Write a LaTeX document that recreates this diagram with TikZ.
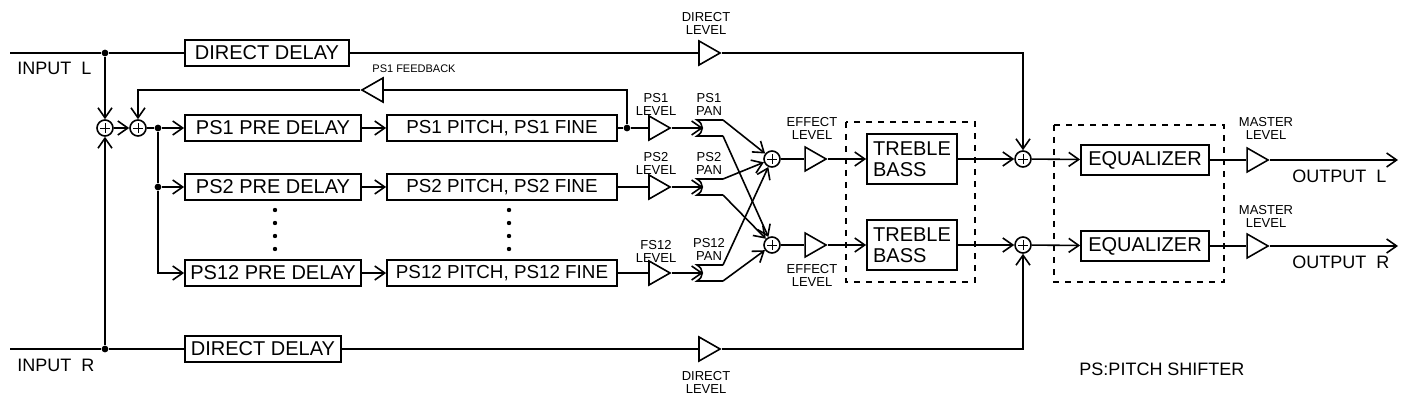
\documentclass[tikz,border=0pt]{standalone}
\usepackage{fontspec}
\setmainfont{Liberation Sans}
\usetikzlibrary{arrows.meta,shapes.geometric}

\tikzset{
  box/.style={draw, line width=0.9pt, inner sep=1.5pt, minimum height=13pt, font=\fontsize{10}{10}\selectfont},
  pbox/.style={box, minimum width=115pt, font=\fontsize{9.4}{10}\selectfont},
  amp/.style={draw, isosceles triangle, isosceles triangle stretches, inner sep=0pt, minimum height=10.5pt, minimum width=12pt},
  sum/.style={circle, draw, minimum size=8pt, inner sep=0pt,
    path picture={\draw[line width=0.4pt]
      ([xshift=-2.3pt]path picture bounding box.center) -- ([xshift=2.3pt]path picture bounding box.center)
      ([yshift=-2.3pt]path picture bounding box.center) -- ([yshift=2.3pt]path picture bounding box.center);}},
  dot/.style={circle, fill, inner sep=1.2pt},
  lbl/.style={align=center, font=\fontsize{6.5}{6.5}\selectfont},
  io/.style={anchor=west, font=\fontsize{9}{9}\selectfont},
}

% pan splitter: name, y
\newcommand{\pan}[2]{%
  \coordinate (#1) at (703,#2);
  \coordinate (#1t) at (723,{#2-8});
  \coordinate (#1b) at (723,{#2+8});
  \draw (#1t) -- (697,{#2-8}) .. controls (704,{#2-4}) and (704,{#2+4}) .. (697,{#2+8}) -- (#1b);
}

\begin{document}
\begin{tikzpicture}[x=0.5pt, y=-0.5pt, line width=0.8pt, >={Straight Barb[length=5pt,width=7pt]}]
    \useasboundingbox (0,0) rectangle (1401,406);

    % inputs and direct paths
    \coordinate (inL) at (10,53);
    \coordinate (inR) at (10,349);
    \node[dot] (jL) at (105,53) {};
    \node[dot] (jR) at (105,349) {};
    \node[box, minimum width=82pt] (ddL) at (267,53) {DIRECT DELAY};
    \node[box, minimum width=78pt] (ddR) at (263,349) {DIRECT DELAY};
    \node[amp] (dlL) at (706,53) {};
    \node[amp] (dlR) at (706,349) {};

    % mixers at the input
    \node[sum] (sA) at (105,128) {};
    \node[sum] (sB) at (138,128) {};
    \node[dot] (j1) at (158,128) {};
    \node[dot] (j2) at (158,187) {};

    % pitch shifter rows
    \node[box, minimum width=88pt] (pd1) at (273,128) {PS1 PRE DELAY};
    \node[box, minimum width=88pt] (pd2) at (273,187) {PS2 PRE DELAY};
    \node[box, minimum width=88pt] (pd12) at (273,273) {PS12 PRE DELAY};
    \node[pbox] (pp1) at (502,128) {PS1 PITCH, PS1 FINE};
    \node[pbox] (pp2) at (502,187) {PS2 PITCH, PS2 FINE};
    \node[pbox] (pp12) at (502,273) {PS12 PITCH, PS12 FINE};
    \node[dot] (jf) at (627,128) {};
    \node[amp, shape border rotate=180] (fb) at (376,90) {};
    \node[amp] (lv1) at (656,128) {};
    \node[amp] (lv2) at (656,187) {};
    \node[amp] (lv12) at (656,273) {};
    \pan{pn1}{128}
    \pan{pn2}{187}
    \pan{pn12}{273}

    % effect mixers, tone, output
    \node[sum] (sL) at (772,159) {};
    \node[sum] (sR) at (772,245) {};
    \node[amp] (el1) at (812,159) {};
    \node[amp] (el2) at (812,245) {};
    \node[box, align=left, minimum width=45pt, minimum height=25pt, inner sep=1pt,
      font=\fontsize{10}{10.5}\selectfont] (tb1) at (912,159) {TREBLE\\BASS};
    \node[box, align=left, minimum width=45pt, minimum height=25pt, inner sep=1pt,
      font=\fontsize{10}{10.5}\selectfont] (tb2) at (912,245) {TREBLE\\BASS};
    \node[sum] (oL) at (1023,159) {};
    \node[sum] (oR) at (1023,245) {};
    \node[box, minimum width=64pt, minimum height=15pt] (eq1) at (1145,160) {EQUALIZER};
    \node[box, minimum width=64pt, minimum height=15pt] (eq2) at (1145,246) {EQUALIZER};
    \node[amp] (ml1) at (1254,160) {};
    \node[amp] (ml2) at (1254,246) {};
    \coordinate (outL) at (1398,160);
    \coordinate (outR) at (1398,246);

    % connections
    \draw (inL) -- (jL) -- (ddL) -- (dlL);
    \draw[->] (dlL) -| (oL);
    \draw (inR) -- (jR) -- (ddR) -- (dlR);
    \draw[->] (dlR) -| (oR);
    \draw[->] (jL) -- (sA);
    \draw[->] (jR) -- (sA);
    \draw[->] (sA) -- (sB);
    \draw (sB) -- (j1);
    \draw (j1) -- (j2);
    \draw[->] (j1) -- (pd1);
    \draw[->] (j2) -- (pd2);
    \draw[->] (j2) |- (pd12);
    \draw[->] (pd1) -- (pp1);
    \draw[->] (pd2) -- (pp2);
    \draw[->] (pd12) -- (pp12);
    \draw (pp1) -- (jf) -- (lv1);
    \draw (pp2) -- (lv2);
    \draw (pp12) -- (lv12);
    \draw (jf) |- (fb);
    \draw[->] (fb) -| (sB);
    \draw[->] (lv1) -- (pn1);
    \draw[->] (lv2) -- (pn2);
    \draw[->] (lv12) -- (pn12);
    \draw[->] (pn1t) -- (sL);
    \draw[->] (pn2t) -- (sL);
    \draw[->] (pn12t) -- (sL);
    \draw[->] (pn1b) -- (sR);
    \draw[->] (pn2b) -- (sR);
    \draw[->] (pn12b) -- (sR);
    \draw (sL) -- (el1);
    \draw (sR) -- (el2);
    \draw[->] (el1) -- (tb1);
    \draw[->] (el2) -- (tb2);
    \draw[->] (tb1) -- (oL);
    \draw[->] (tb2) -- (oR);
    \draw[->] (oL) -- (eq1);
    \draw[->] (oR) -- (eq2);
    \draw (eq1) -- (ml1);
    \draw (eq2) -- (ml2);
    \draw[->] (ml1) -- (outL);
    \draw[->] (ml2) -- (outR);

    % dashed groups and ellipsis dots
    \draw[dashed, line width=0.6pt] (846,122) rectangle (975,282);
    \draw[dashed, line width=0.6pt] (1054,125) rectangle (1224,282);
    \foreach \y in {210,223,236,249} {
        \fill (275,\y) circle (1.1pt);
        \fill (509,\y) circle (1.1pt);
    }

    % labels
    \node[io] at (10,68) {INPUT\ \ L};
    \node[io] at (10,365) {INPUT\ \ R};
    \node[lbl] at (706,23) {DIRECT\\LEVEL};
    \node[lbl] at (706,382) {DIRECT\\LEVEL};
    \node[lbl, font=\fontsize{5.5}{5.5}\selectfont] at (414,69) {PS1 FEEDBACK};
    \node[lbl] at (656,104) {PS1\\LEVEL};
    \node[lbl] at (656,163) {PS2\\LEVEL};
    \node[lbl] at (656,251) {FS12\\LEVEL};
    \node[lbl] at (709,104) {PS1\\PAN};
    \node[lbl] at (709,163) {PS2\\PAN};
    \node[lbl] at (709,249) {PS12\\PAN};
    \node[lbl] at (812,128) {EFFECT\\LEVEL};
    \node[lbl] at (812,275) {EFFECT\\LEVEL};
    \node[lbl] at (1266,128) {MASTER\\LEVEL};
    \node[lbl] at (1266,216) {MASTER\\LEVEL};
    \node[io] at (1285,176) {OUTPUT\ \ L};
    \node[io] at (1285,262) {OUTPUT\ \ R};
    \node[io] at (1072,369) {PS:PITCH SHIFTER};
\end{tikzpicture}
\end{document}
